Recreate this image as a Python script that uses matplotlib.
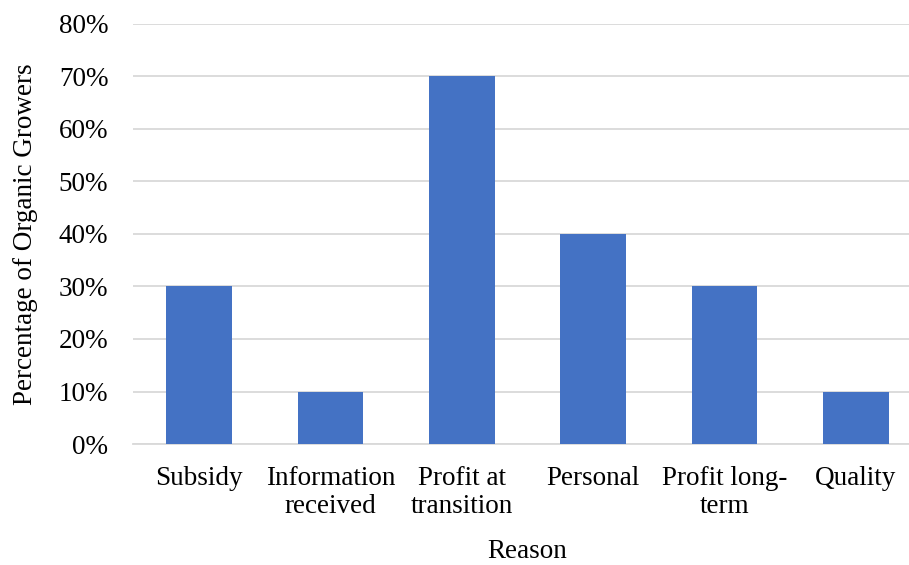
import matplotlib.pyplot as plt
from matplotlib.ticker import PercentFormatter

categories = ['Subsidy', 'Information\nreceived', 'Profit at\ntransition', 'Personal', 'Profit long-\nterm', 'Quality']
percentages = [30, 10, 70, 40, 30, 10]

plt.rcParams['font.family'] = ['Liberation Serif', 'DejaVu Serif']

fig = plt.figure(figsize=(9.09, 5.65), dpi=100)
ax = fig.add_axes([133.3 / 909, 121 / 565, 788.4 / 909, 420 / 565])

ax.bar(range(len(categories)), percentages, width=0.5, color='#4472c4', zorder=3)

ax.set_xlim(-0.5, len(categories) - 0.5)
ax.set_ylim(0, 80)
ax.set_yticks(range(0, 81, 10))
ax.yaxis.set_major_formatter(PercentFormatter(decimals=0))
ax.set_xticks(range(len(categories)))
ax.set_xticklabels(categories, linespacing=1.12)

ax.grid(axis='y', color='#d9d9d9', linewidth=1.3, zorder=0)
for side in ['top', 'right', 'left']:
    ax.spines[side].set_visible(False)
ax.spines['bottom'].set_color('#d9d9d9')
ax.spines['bottom'].set_linewidth(1.3)
ax.tick_params(axis='both', length=0, labelsize=19.5, colors='black')
ax.tick_params(axis='x', pad=16)
ax.tick_params(axis='y', pad=18)

ax.set_xlabel('Reason', fontsize=19.5, labelpad=15)
ax.set_ylabel('Percentage of Organic Growers', fontsize=19.5, labelpad=15)

fig.savefig('out.png', dpi=100)
